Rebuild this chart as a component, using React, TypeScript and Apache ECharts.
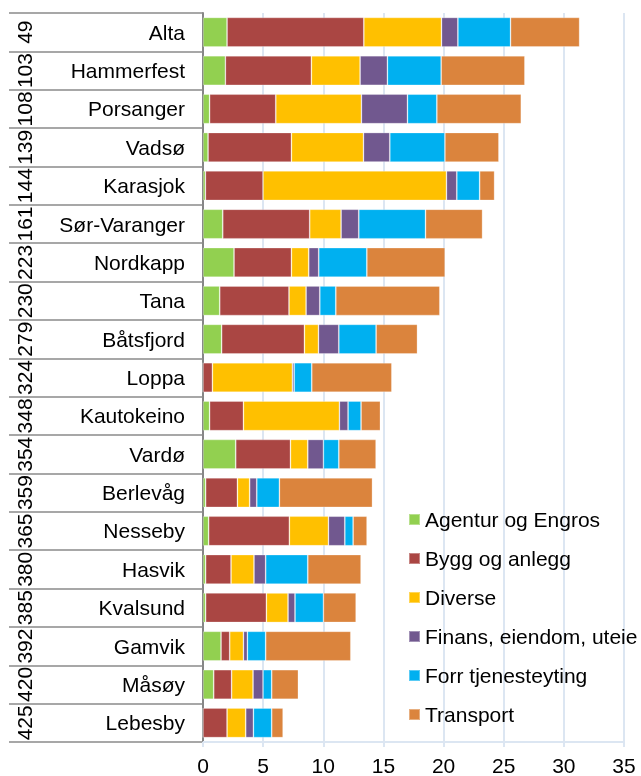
import React, { useEffect, useRef } from "react";
import * as echarts from "echarts";

const names = ["Alta", "Hammerfest", "Porsanger", "Vadsø", "Karasjok", "Sør-Varanger", "Nordkapp", "Tana", "Båtsfjord", "Loppa", "Kautokeino", "Vardø", "Berlevåg", "Nesseby", "Hasvik", "Kvalsund", "Gamvik", "Måsøy", "Lebesby"];
const ranks = ["49", "103", "108", "139", "144", "161", "223", "230", "279", "324", "348", "354", "359", "365", "380", "385", "392", "420", "425"];

const seriesNames = ["Agentur og Engros", "Bygg og anlegg", "Diverse", "Finans, eiendom, uteie", "Forr tjenesteyting", "Transport"];
const colors = ["#92D050", "#AA4643", "#FFC000", "#71588F", "#00B0F0", "#DB843D"];

const agentur = [2.0, 1.86, 0.55, 0.42, 0.2, 1.64, 2.58, 1.39, 1.55, 0, 0.55, 2.72, 0.22, 0.47, 0.22, 0.22, 1.5, 0.89, 0];
const bygg = [11.37, 7.15, 5.5, 6.93, 4.79, 7.23, 4.77, 5.76, 6.88, 0.78, 2.81, 4.55, 2.64, 6.71, 2.11, 5.05, 0.72, 1.49, 2.0];
const diverse = [6.46, 4.05, 7.12, 5.99, 15.25, 2.61, 1.44, 1.42, 1.17, 6.65, 7.98, 1.44, 1.02, 3.25, 1.91, 1.8, 1.14, 1.78, 1.55];
const finans = [1.36, 2.27, 3.83, 2.19, 0.86, 1.47, 0.83, 1.14, 1.69, 0.15, 0.72, 1.3, 0.59, 1.36, 0.97, 0.58, 0.33, 0.83, 0.64];
const forr = [4.38, 4.47, 2.44, 4.58, 1.9, 5.55, 4.0, 1.33, 3.1, 1.46, 1.08, 1.28, 1.88, 0.69, 3.5, 2.36, 1.52, 0.72, 1.52];
const transport = [5.74, 6.96, 7.02, 4.49, 1.24, 4.74, 6.51, 8.65, 3.44, 6.66, 1.61, 3.1, 7.74, 1.16, 4.43, 2.72, 7.08, 2.22, 0.95];

const xTicks = { min: 0, max: 35, interval: 5 };

const FONT = "Arial, 'Liberation Sans', sans-serif";

export default function App() {
  const ref = useRef<HTMLDivElement>(null);
  useEffect(() => {
    if (!ref.current) return;
    const chart = echarts.init(ref.current, null, { renderer: "svg" });
    const allData = [agentur, bygg, diverse, finans, forr, transport];
    chart.setOption({
      animation: false,
      textStyle: { fontFamily: FONT },
      grid: { left: 203, right: 17, top: 13, bottom: 34 },
      legend: {
        orient: "vertical",
        left: 403,
        top: 504,
        padding: 5,
        itemWidth: 11,
        itemHeight: 11,
        itemGap: 18,
        icon: "rect",
        textStyle: { fontSize: 21, color: "#000", fontFamily: FONT },
        data: seriesNames,
      },
      xAxis: {
        type: "value",
        min: xTicks.min,
        max: xTicks.max,
        interval: xTicks.interval,
        splitLine: { show: true, lineStyle: { color: "#DCE6F2", width: 2 } },
        axisLine: { show: true, lineStyle: { color: "#DCE6F2", width: 2 } },
        axisTick: { show: true, length: 5, lineStyle: { color: "#DCE6F2", width: 2 } },
        axisLabel: { fontSize: 21, margin: 13, color: "#000", fontFamily: FONT },
      },
      yAxis: [
        {
          type: "category",
          data: names,
          inverse: true,
          position: "left",
          axisLine: { show: true, lineStyle: { color: "#868686", width: 2 } },
          axisTick: { show: true, interval: 0, length: 194, lineStyle: { color: "#8a8a8a", width: 1.5 } },
          axisLabel: { interval: 0, margin: 18, fontSize: 21, color: "#000", fontFamily: FONT },
          splitLine: { show: false },
        },
        {
          type: "category",
          data: ranks,
          inverse: true,
          position: "left",
          axisLine: { show: false },
          axisTick: { show: false },
          axisLabel: { interval: 0, rotate: 90, margin: 168, fontSize: 21, color: "#000", fontFamily: FONT },
          splitLine: { show: false },
        },
      ],
      series: seriesNames.map((n, i) => ({
        name: n,
        type: "bar",
        stack: "total",
        yAxisIndex: 0,
        barCategoryGap: "23%",
        itemStyle: { color: colors[i], borderColor: "rgba(255,255,255,0.35)", borderWidth: 0.8 },
        data: allData[i],
      })),
    });
    return () => chart.dispose();
  }, []);
  return <div ref={ref} style={{ position: "fixed", left: 0, top: 0, width: 641, height: 776 }} />;
}
